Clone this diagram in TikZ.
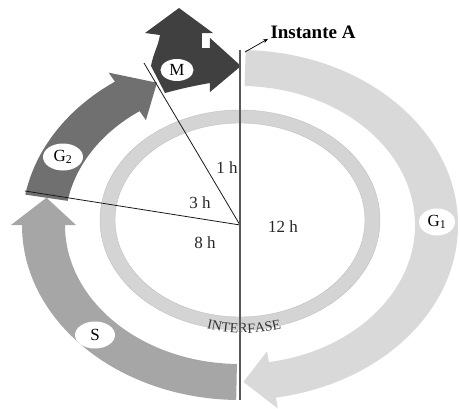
\documentclass[tikz,border=0pt]{standalone}
\usepackage{fontspec}
\setmainfont{Liberation Serif}
\usepackage{tikz}
\usetikzlibrary{shapes.geometric, arrows.meta, positioning, calc, decorations.text}
\definecolor{gonegray}{RGB}{217, 217, 217}
\definecolor{sgray}{RGB}{166, 166, 166}
\definecolor{gtwogray}{RGB}{112, 112, 112}
\definecolor{mgray}{RGB}{64, 64, 64}
\definecolor{ringgray}{RGB}{212, 212, 212}
\tikzset{
    phaselabel/.style={ellipse, fill=white, inner sep=0pt, minimum width=36pt, minimum height=27pt, font=\fontsize{17}{19}\selectfont},
    hourlabel/.style={font=\fontsize{17}{19}\selectfont, text=black!85},
    divider/.style={draw, black!90, line width=0.8pt}
}
% one phase of the cycle: fill, start angle, head angle, tip angle
\newcommand{\phasearrow}[4]{%
    \fill[#1] (#2:218pt and 175pt) arc[start angle=#2, end angle=#3, x radius=218pt, y radius=175pt]
        -- (#3:229pt and 186pt) -- (#4:196.5pt and 157pt) -- (#3:164pt and 128pt) -- (#3:175pt and 139pt)
        arc[start angle=#3, end angle=#2, x radius=175pt, y radius=139pt] -- cycle;}

\begin{document}
\begin{tikzpicture}[
    x=1pt, y=1pt,
    arrow/.style={-{Stealth[length=5pt, width=4pt]}, black, line width=0.7pt}
]
    \useasboundingbox (-240,-183) rectangle (220,225);

    % Interfase ring
    \fill[ringgray, even odd rule, draw=black!25, line width=0.4pt]
        (0,5) ellipse[x radius=140pt, y radius=110pt] (0,5) ellipse[x radius=125pt, y radius=97pt];
    \path[decorate, decoration={text along path, text align=center,
        text={|\fontsize{14}{16}\selectfont\color{black!80}|INTERFASE}}]
        ([shift={(4,5)}]238:136pt and 113pt) arc[start angle=238, end angle=302, x radius=136pt, y radius=113pt];

    % Phases
    \phasearrow{gonegray}{88.5}{-80.5}{-89}
    \phasearrow{sgray}{269}{180}{170}
    \phasearrow{gtwogray}{170}{125}{115}

    % Mitosis
    \fill[mgray] (-75,132) -- (-89,159) to[out=80, in=-100] (-80,190) -- (-95,192) -- (-61,217) -- (-27,192)
        -- (-38,192) -- (-38,177) -- (-30,177) -- (-30,187) -- (1,159) -- (-30,133) -- (-30,142)
        to[out=190, in=15] cycle;

    % Dividers
    \coordinate (centre) at (0,0);
    \coordinate (sgtwo) at (-215,34);
    \coordinate (gtwom) at (-96,162);
    \coordinate (top) at (0,175);
    \coordinate (bottom) at (0,-175);
    \draw[divider] (centre) -- (sgtwo);
    \draw[divider] (centre) -- (gtwom);
    \draw[black!65, line width=1.2pt] (top) -- (bottom);

    % Phase labels
    \node[phaselabel] (gone) at (197,3) {G\textsubscript{1}};
    \node[phaselabel, minimum width=40pt] (s) at (-145,-110) {S};
    \node[phaselabel, minimum width=40pt] (gtwo) at (-177,68) {G\textsubscript{2}};
    \node[phaselabel, minimum width=33pt, minimum height=22pt] (m) at (-63,155) {M};

    % Durations
    \node[hourlabel] (onehour) at (-13,57) {1 h};
    \node[hourlabel] (threehour) at (-40,22) {3 h};
    \node[hourlabel] (eighthour) at (-35,-18) {8 h};
    \node[hourlabel] (twelvehour) at (43,-2) {12 h};

    % Instante A
    \node[font=\bfseries\fontsize{19}{21}\selectfont, anchor=west] (instante) at (27,193) {Instante A};
    \draw[arrow] ([shift={(5,-2)}]top) -- ([shift={(1,3)}]instante.south west);

\end{tikzpicture}
\end{document}
